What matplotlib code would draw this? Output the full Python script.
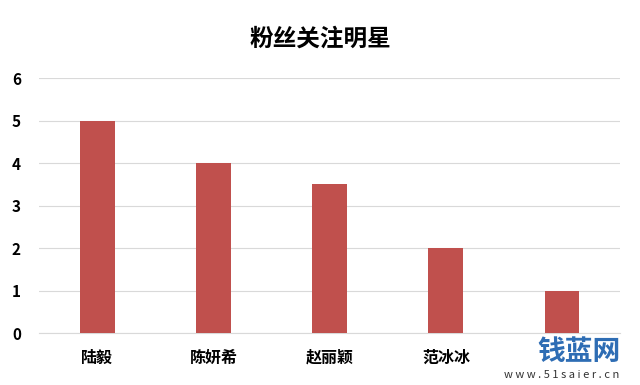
import matplotlib.pyplot as plt

plt.rcParams['font.family'] = ['Noto Sans CJK SC', 'DejaVu Sans']

names = ['陆毅', '陈妍希', '赵丽颖', '范冰冰', '']
fans = [5, 4, 3.5, 2, 1]

fig = plt.figure(figsize=(6.4, 3.85), dpi=100)
ax = fig.add_axes([0.061, 0.135, 0.908, 0.662])

x = range(len(names))
ax.bar(x, fans, width=0.3, color='#C0504D', zorder=3)

ax.set_xlim(-0.5, len(names) - 0.5)
ax.set_ylim(0, 6)
ax.set_yticks(range(0, 7))
ax.set_xticks(list(x))
ax.set_xticklabels(names, fontsize=11.5, fontweight='bold')
for lab in ax.get_yticklabels():
    lab.set_fontsize(11)
    lab.set_fontweight('bold')

ax.grid(axis='y', color='#D9D9D9', linewidth=0.8, zorder=0)
for s in ['top', 'right', 'left']:
    ax.spines[s].set_visible(False)
ax.spines['bottom'].set_color('#D9D9D9')
ax.tick_params(axis='x', length=0, pad=12)
ax.tick_params(axis='y', length=0, pad=13)

fig.text(0.5, 0.90, '粉丝关注明星', ha='center', va='center',
         fontsize=17, fontweight='bold')

# watermark
fig.text(0.905, 0.085, '钱蓝网', ha='center', va='center', fontsize=20,
         fontweight='bold', color='#2E6DB4')
fig.text(0.877, 0.025, 'w w w . 5 1 s a i e r . c n', ha='center', va='center',
         fontsize=8, color='#333333')

fig.savefig('out.png', dpi=100)
